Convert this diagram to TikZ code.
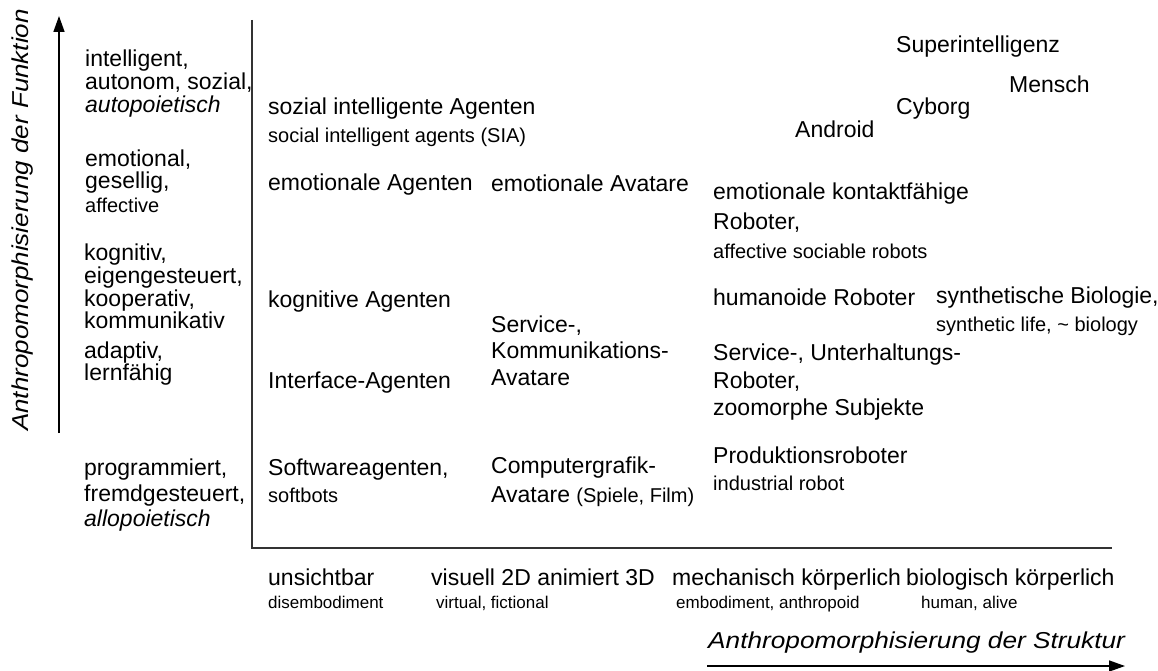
\documentclass[tikz,border=0pt]{standalone}
\usepackage{fontspec}
\setmainfont{Liberation Sans}
\usetikzlibrary{arrows.meta}

\tikzset{
  lbl/.style={inner sep=0pt, anchor=base west},
  big/.style={lbl, font=\fontsize{23}{23}\selectfont},
  small/.style={lbl, font=\fontsize{20}{20}\selectfont},
  tiny/.style={lbl, font=\fontsize{17}{17}\selectfont},
  axislabel/.style={inner sep=0pt, font=\fontsize{23}{23}\selectfont\itshape},
  frame/.style={line width=2pt, draw=black!80},
  axisarrow/.style={line width=1.5pt, -{Triangle[length=16pt,width=11pt]}}
}

\begin{document}
\begin{tikzpicture}[x=1pt, y=-1pt]
\useasboundingbox (0,0) rectangle (1158,671);

% frame of the diagram
\coordinate (ftop) at (252,20);
\coordinate (fcorner) at (252,548);
\coordinate (fright) at (1112,548);
\draw[frame] (ftop) -- (fcorner) -- (fright);

% function axis
\coordinate (fa0) at (59,433);
\coordinate (fa1) at (59,16);
\draw[axisarrow] (fa0) -- (fa1);
\node[axislabel, rotate=90] (funcaxis) at (23,220)
  {\scalebox{1.13}[1]{Anthropomorphisierung der Funktion}};

% structure axis
\coordinate (sa0) at (707,666);
\coordinate (sa1) at (1125,666);
\draw[axisarrow] (sa0) -- (sa1);
\node[axislabel, anchor=base west] (structaxis) at (708,648)
  {\scalebox{1.14}[1]{Anthropomorphisierung der Struktur}};

% levels of function
\node[big] (f1a) at (85,67) {intelligent,};
\node[big] (f1b) at (85,90) {autonom, sozial,};
\node[big] (f1c) at (85,113) {\itshape autopoietisch};
\node[big] (f2a) at (85,167) {emotional,};
\node[big] (f2b) at (85,189) {gesellig,};
\node[small] (f2c) at (85,212) {affective};
\node[big] (f3a) at (84,260) {kognitiv,};
\node[big] (f3b) at (84,283) {eigengesteuert,};
\node[big] (f3c) at (84,306) {kooperativ,};
\node[big] (f3d) at (84,328) {kommunikativ};
\node[big] (f4a) at (84,358) {adaptiv,};
\node[big] (f4b) at (84,380) {lernfähig};
\node[big] (f5a) at (84,475) {programmiert,};
\node[big] (f5b) at (84,501) {fremdgesteuert,};
\node[big] (f5c) at (84,526) {\itshape allopoietisch};

% agents
\node[big] (a1a) at (268,115) {sozial intelligente Agenten};
\node[small] (a1b) at (268,143) {social intelligent agents (SIA)};
\node[big] (a2) at (268,190) {emotionale Agenten};
\node[big] (a3) at (268,307) {kognitive Agenten};
\node[big] (a4) at (268,388) {Interface-Agenten};
\node[big] (a5a) at (268,475) {Softwareagenten,};
\node[small] (a5b) at (268,502) {softbots};

% avatars
\node[big] (v2) at (491,192) {emotionale Avatare};
\node[big] (v3a) at (491,332) {Service-,};
\node[big] (v3b) at (491,358) {Kommunikations-};
\node[big] (v3c) at (491,385) {Avatare};
\node[big] (v5a) at (491,473) {Computergrafik-};
\node[big] (v5b) at (491,502) {Avatare {\fontsize{20}{20}\selectfont(Spiele, Film)}};

% robots
\node[big] (r2a) at (713,200) {emotionale kontaktfähige};
\node[big] (r2b) at (713,229) {Roboter,};
\node[small] (r2c) at (713,258) {affective sociable robots};
\node[big] (r3) at (713,305) {humanoide Roboter};
\node[big] (r4a) at (713,360) {Service-, Unterhaltungs-};
\node[big] (r4b) at (713,388) {Roboter,};
\node[big] (r4c) at (713,415) {zoomorphe Subjekte};
\node[big] (r5a) at (713,463) {Produktionsroboter};
\node[small] (r5b) at (713,490) {industrial robot};

% biology
\node[big] (b3a) at (936,303) {synthetische Biologie,};
\node[small] (b3b) at (936,331) {synthetic life, \textasciitilde{} biology};

% top region
\node[big] (super) at (896,53) {Superintelligenz};
\node[big] (mensch) at (1009,93) {Mensch};
\node[big] (cyborg) at (896,115) {Cyborg};
\node[big] (android) at (795,138) {Android};

% levels of structure
\node[big] (s1a) at (268,585) {unsichtbar};
\node[tiny] (s1b) at (268,608) {disembodiment};
\node[big] (s2a) at (431,585) {visuell 2D animiert 3D};
\node[tiny] (s2b) at (436,608) {virtual, fictional};
\node[big] (s3a) at (672,585) {mechanisch körperlich};
\node[tiny] (s3b) at (676,608) {embodiment, anthropoid};
\node[big] (s4a) at (906,585) {biologisch körperlich};
\node[tiny] (s4b) at (921,608) {human, alive};
\end{tikzpicture}
\end{document}
